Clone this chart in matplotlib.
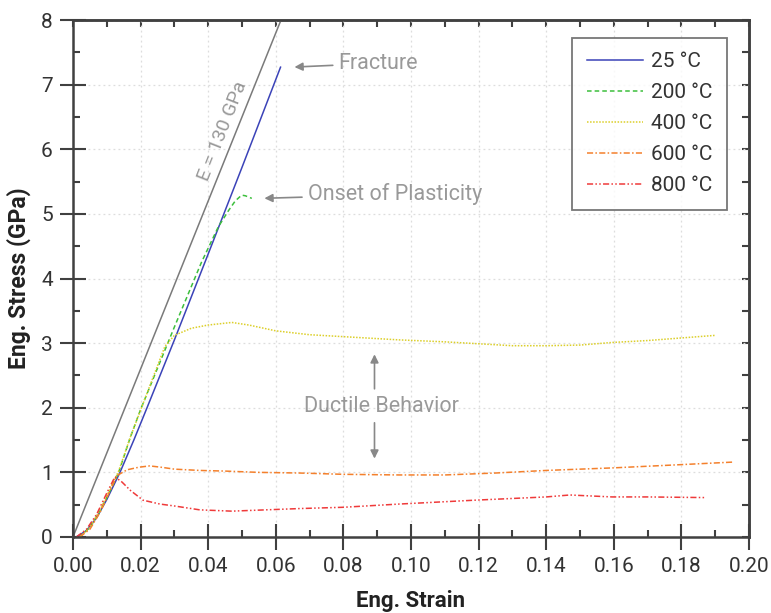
import numpy as np
import matplotlib
matplotlib.use("Agg")
import matplotlib.pyplot as plt
from matplotlib.ticker import MultipleLocator

plt.rcParams["font.family"] = ["Roboto", "DejaVu Sans"]

# curves: strain [-], stress [GPa]
strain_25 = [0.001, 0.004, 0.007, 0.010, 0.0139, 0.018, 0.0219, 0.030, 0.040, 0.050, 0.0614]
stress_25 = [0.0, 0.10, 0.30, 0.58, 1.00, 1.50, 2.00, 3.05, 4.38, 5.72, 7.27]

strain_200 = [0.002, 0.005, 0.008, 0.011, 0.0135, 0.017, 0.0202, 0.030, 0.038, 0.043,
              0.046, 0.048, 0.0499, 0.051, 0.0529]
stress_200 = [0.0, 0.15, 0.40, 0.72, 1.00, 1.55, 2.00, 3.25, 4.25, 4.80, 5.05, 5.20, 5.29,
              5.28, 5.24]

strain_400 = [0.002, 0.005, 0.008, 0.011, 0.0135, 0.017, 0.021, 0.025, 0.0272, 0.030,
              0.035, 0.040, 0.047, 0.052, 0.060, 0.070, 0.080, 0.0966, 0.110, 0.120,
              0.130, 0.140, 0.150, 0.1595, 0.170, 0.180, 0.190]
stress_400 = [0.0, 0.15, 0.42, 0.75, 1.02, 1.55, 2.10, 2.65, 2.95, 3.12, 3.23, 3.28, 3.32,
              3.28, 3.19, 3.13, 3.10, 3.05, 3.02, 2.99, 2.96, 2.96, 2.97, 3.01, 3.04, 3.08,
              3.12]

strain_600 = [0.002, 0.005, 0.008, 0.011, 0.013, 0.016, 0.0195, 0.0227, 0.026, 0.030,
              0.0375, 0.045, 0.055, 0.067, 0.080, 0.0966, 0.110, 0.125, 0.140, 0.160,
              0.180, 0.1956]
stress_600 = [0.0, 0.12, 0.38, 0.72, 0.95, 1.04, 1.08, 1.10, 1.08, 1.05, 1.03, 1.02, 1.00,
              0.99, 0.97, 0.96, 0.96, 0.99, 1.03, 1.07, 1.12, 1.16]

strain_800 = [0.001, 0.004, 0.007, 0.010, 0.0124, 0.0145, 0.017, 0.0207, 0.0257, 0.030,
              0.0375, 0.047, 0.057, 0.067, 0.080, 0.0966, 0.119, 0.140, 0.147, 0.1595,
              0.170, 0.187]
stress_800 = [0.0, 0.12, 0.35, 0.68, 0.93, 0.85, 0.72, 0.57, 0.51, 0.48, 0.42, 0.40, 0.42,
              0.44, 0.46, 0.51, 0.57, 0.62, 0.65, 0.62, 0.62, 0.61]

youngs_modulus = 130.0  # GPa
stress_max = 8.0

labels = ["25 °C", "200 °C", "400 °C", "600 °C", "800 °C"]
colors = ["#3b43b8", "#3cbf3c", "#dccf2a", "#f4802c", "#ef3a3a"]
styles = ["-", (0, (3, 2)), (0, (1, 1)), (0, (4, 1.5, 1, 1.5)), (0, (4, 1.5, 1, 1.5, 1, 1.5))]

fig = plt.figure(figsize=(7.71, 6.13), dpi=100)
ax = fig.add_axes([73 / 771, 1 - 537 / 613, (749 - 73) / 771, (537 - 20) / 613])

ax.plot([0, stress_max / youngs_modulus], [0, stress_max], color="#7a7a7a", lw=1.1)

curves = [(strain_25, stress_25), (strain_200, stress_200), (strain_400, stress_400),
          (strain_600, stress_600), (strain_800, stress_800)]
for (x, y), lab, c, ls in zip(curves, labels, colors, styles):
    ax.plot(x, y, color=c, ls=ls, lw=1.1, label=lab)

ax.set_xlim(0, 0.20)
ax.set_ylim(0, 8)
ax.xaxis.set_major_locator(MultipleLocator(0.02))
ax.xaxis.set_minor_locator(MultipleLocator(0.01))
ax.yaxis.set_major_locator(MultipleLocator(1))
ax.yaxis.set_minor_locator(MultipleLocator(0.5))
ax.xaxis.set_major_formatter(lambda v, p: f"{v:.2f}")
ax.grid(True, which="major", ls=(0, (1.5, 2.5)), color="#dddddd", lw=0.9)

for s in ax.spines.values():
    s.set_linewidth(1.8)
    s.set_color("#404040")
ax.tick_params(which="major", direction="inout", length=19, width=1.5, color="#404040",
               labelsize=15, labelcolor="#333333", pad=5)
ax.tick_params(which="minor", direction="in", length=5, width=1.5, color="#404040")

# short inward ticks on top and right
sec = ax.secondary_xaxis("top")
sec.xaxis.set_major_locator(MultipleLocator(0.02))
sec.xaxis.set_minor_locator(MultipleLocator(0.01))
sec.tick_params(which="both", direction="in", length=5, width=1.5, color="#404040",
                labeltop=False)
sec.spines["top"].set_linewidth(1.8)
sec.spines["top"].set_color("#404040")
sec = ax.secondary_yaxis("right")
sec.yaxis.set_major_locator(MultipleLocator(1))
sec.yaxis.set_minor_locator(MultipleLocator(0.5))
sec.tick_params(which="both", direction="in", length=5, width=1.5, color="#404040",
                labelright=False)
sec.spines["right"].set_linewidth(1.8)
sec.spines["right"].set_color("#404040")

ax.set_xlabel("Eng. Strain", fontsize=16, fontweight="bold", color="#222222", labelpad=10)
ax.set_ylabel("Eng. Stress (GPa)", fontsize=16.5, fontweight="bold", color="#222222",
              labelpad=7)

leg = ax.legend(loc="upper right", bbox_to_anchor=(0.968, 0.966), borderaxespad=0,
                fontsize=15, frameon=True, fancybox=False, handlelength=2.7,
                handletextpad=0.4, labelspacing=0.58, borderpad=0.7)
leg.get_frame().set_edgecolor("#555555")
leg.get_frame().set_linewidth(1.3)
for t in leg.get_texts():
    t.set_color("#333333")

grey = "#999999"
arrow = dict(arrowstyle="-|>", color="#888888", lw=1.2, mutation_scale=12)
ax.annotate("Fracture", xy=(0.0647, 7.27), xytext=(0.0785, 7.33), fontsize=15.5, color=grey,
            va="center", ha="left", arrowprops=arrow)
ax.annotate("Onset of Plasticity", xy=(0.0558, 5.24), xytext=(0.0694, 5.3), fontsize=15.5,
            color=grey, va="center", ha="left", arrowprops=arrow)
ax.text(0.0913, 2.02, "Ductile Behavior", fontsize=15.5, color=grey, ha="center", va="center")
ax.annotate("", xy=(0.0892, 2.87), xytext=(0.0892, 2.25), arrowprops=arrow)
ax.annotate("", xy=(0.0892, 1.17), xytext=(0.0892, 1.81), arrowprops=arrow)
ax.text(0.0443, 6.28, "E = 130 GPa", fontsize=14, color=grey, ha="center", va="center",
        rotation=68.5, rotation_mode="anchor")

fig.savefig("out.png", dpi=100)
